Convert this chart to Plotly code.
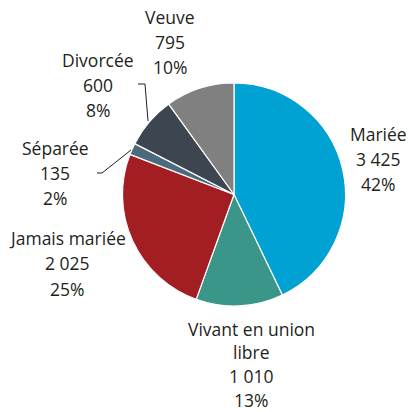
import plotly.graph_objects as go

labels = ["Mariée", "Vivant en union libre", "Jamais mariée", "Séparée", "Divorcée", "Veuve"]
values = [3425, 1010, 2025, 135, 600, 795]
value_text = ["3 425", "1 010", "2 025", "135", "600", "795"]
pct_text = ["42%", "13%", "25%", "2%", "8%", "10%"]
colors = ["#00A1D3", "#3A9688", "#A31E23", "#4B6A7C", "#3D4551", "#808080"]

W, H = 409, 412

fig = go.Figure()
fig.add_trace(go.Pie(
    labels=labels,
    values=values,
    sort=False,
    direction="clockwise",
    rotation=0,
    textinfo="none",
    hoverinfo="label+value",
    marker=dict(colors=colors, line=dict(color="white", width=1.2)),
    domain=dict(x=[122 / W, 346 / W], y=[(H - 306) / H, (H - 83) / H]),
    showlegend=False,
))

# label blocks: (label lines, center x px, first line y px, line step px)
label_lines = {
    "Mariée": (["Mariée"], 378, 134, 25),
    "Vivant en union libre": (["Vivant en union", "libre"], 251, 328.5, 23.7),
    "Jamais mariée": (["Jamais mariée"], 67, 238, 25.3),
    "Séparée": (["Séparée"], 55, 148, 25),
    "Divorcée": (["Divorcée"], 98, 60, 25),
    "Veuve": (["Veuve"], 170, 16.5, 25),
}

annotations = []
for lab, val, pct in zip(labels, value_text, pct_text):
    lines, cx, y0, step = label_lines[lab]
    for i, t in enumerate(lines + [val, pct]):
        annotations.append(dict(
            x=cx / W, y=(H - (y0 + i * step)) / H,
            xref="paper", yref="paper",
            text=t, showarrow=False,
            xanchor="center", yanchor="middle", borderpad=0,
            font=dict(family="Open Sans", size=17.5, color="#231F20"),
        ))

# leader lines
shapes = [
    dict(type="path", path="M 138 84 L 145 84 L 148 121",
         xref="x", yref="y", line=dict(color="#231F20", width=1)),
    dict(type="path", path="M 97 173 L 102 173 L 131 150",
         xref="x", yref="y", line=dict(color="#231F20", width=1)),
]

fig.update_layout(
    width=W, height=H,
    margin=dict(l=0, r=0, t=0, b=0),
    paper_bgcolor="white", plot_bgcolor="rgba(0,0,0,0)",
    annotations=annotations,
    shapes=shapes,
    xaxis=dict(range=[0, W], visible=False, domain=[0, 1], fixedrange=True),
    yaxis=dict(range=[H, 0], visible=False, domain=[0, 1], fixedrange=True),
)

fig.write_html("out.html", config={"displayModeBar": False},
               post_script="document.body.style.margin = '0'; document.body.style.overflow = 'hidden';")
